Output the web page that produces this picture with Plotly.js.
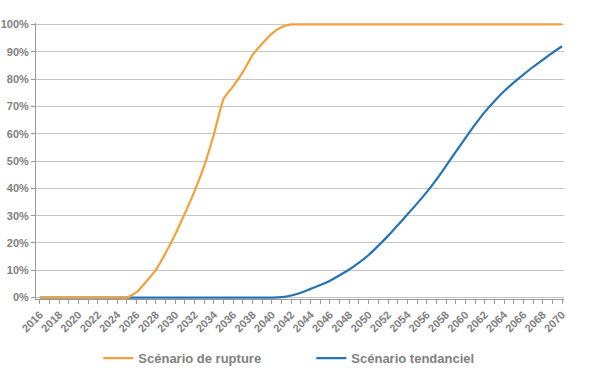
<!DOCTYPE html>
<html>
<head>
<meta charset="utf-8">
<script src="https://cdn.plot.ly/plotly-3.0.1.min.js"></script>
<style>html,body{margin:0;padding:0;background:#fff;}#chart{width:600px;height:388px;}</style>
</head>
<body>
<div id="chart"></div>
<script>
const years = [];
for (let y = 2016; y <= 2070; y++) years.push(y);

const rupture = [
  0, 0, 0, 0, 0, 0, 0, 0, 0, 0,          // 2016-2025
  2, 5.9, 10.2, 16.3, 23.2, 30.9, 39, 48.3, 59.8, 72.8,  // 2026-2035
  77.4, 82.6, 88.8, 93, 96.6, 99, 100, 100, 100, 100,    // 2036-2045
  100, 100, 100, 100, 100, 100, 100, 100, 100, 100,      // 2046-2055
  100, 100, 100, 100, 100, 100, 100, 100, 100, 100,      // 2056-2065
  100, 100, 100, 100, 100                                // 2066-2070
];

const tendanciel = [
  0, 0, 0, 0, 0, 0, 0, 0, 0, 0,          // 2016-2025
  0, 0, 0, 0, 0, 0, 0, 0, 0, 0,          // 2026-2035
  0, 0, 0, 0, 0, 0.2, 0.8, 1.8, 3.2, 4.6, // 2036-2045
  6.2, 8.2, 10.3, 12.8, 15.6, 19, 22.6, 26.5, 30.4, 34.4, // 2046-2055
  38.6, 43.2, 48.2, 53.3, 58.4, 63.3, 67.9, 71.9, 75.5, 78.7, // 2056-2065
  81.6, 84.4, 87, 89.6, 92                // 2066-2070
];

const seriesNames = ['Scénario de rupture', 'Scénario tendanciel'];
const seriesColors = ['#F2A13A', '#2572B6'];

const gray = '#808080';
const fam = '"Liberation Sans", Arial, sans-serif';

const traces = [
  {x: years, y: tendanciel.map(v => v / 100), name: seriesNames[1], type: 'scatter', mode: 'lines',
   line: {color: seriesColors[1], width: 2.2, shape: 'spline', smoothing: 0.7}, legendrank: 2},
  {x: years, y: rupture.map(v => v / 100), name: seriesNames[0], type: 'scatter', mode: 'lines',
   line: {color: seriesColors[0], width: 2.2, shape: 'spline', smoothing: 0.5}, legendrank: 1}
];

const layout = {
  width: 600, height: 388,
  margin: {l: 36, r: 36, t: 23, b: 89},
  paper_bgcolor: '#fff', plot_bgcolor: '#fff',
  font: {family: fam, size: 11, color: gray},
  showlegend: true,
  legend: {orientation: 'h', x: 0.118, xanchor: 'left', y: -0.16, yanchor: 'top',
           font: {family: fam, size: 13, color: gray, weight: 'bold'},
           itemwidth: 30, entrywidth: 168, entrywidthmode: 'pixels', traceorder: 'normal'},
  xaxis: {
    range: [2015.6, 2070.2], tickmode: 'linear', tick0: 2016, dtick: 2,
    tickangle: -45, ticks: 'outside', ticklen: 4, tickcolor: '#999', tickwidth: 1,
    showgrid: false, zeroline: false, showline: true, linecolor: '#999', linewidth: 1,
    minor: {dtick: 1, tick0: 2016, ticks: 'outside', ticklen: 4, tickcolor: '#999', showgrid: false},
    tickfont: {family: fam, size: 11, color: gray, weight: 'bold'}
  },
  yaxis: {
    range: [-0.005, 1.005], tickmode: 'linear', tick0: 0, dtick: 0.1, tickformat: '.0%',
    ticks: 'outside', ticklen: 4, tickcolor: '#999',
    showgrid: true, gridcolor: '#c4c4c4', gridwidth: 1, zeroline: false,
    showline: true, linecolor: '#999', linewidth: 1,
    tickfont: {family: fam, size: 11, color: gray, weight: 'bold'}
  }
};

Plotly.newPlot('chart', traces, layout, {displayModeBar: false, staticPlot: true});
</script>
</body>
</html>
